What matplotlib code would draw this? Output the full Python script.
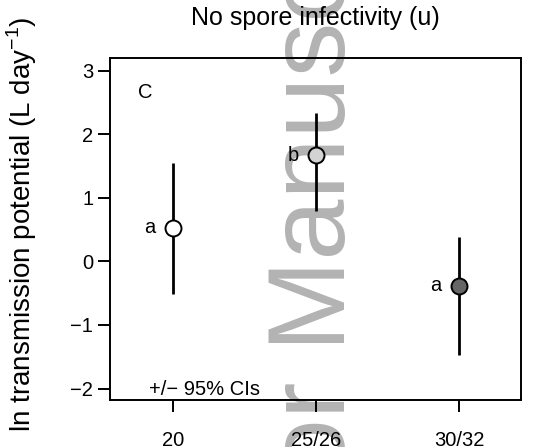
import matplotlib
matplotlib.use('Agg')
import matplotlib.pyplot as plt

plt.rcParams['font.family'] = ['Liberation Sans', 'DejaVu Sans']

# ---- data ----
temps   = ['20', '25/26', '30/32']
est     = [0.53, 1.67, -0.38]
ci_lo   = [-0.51, 0.79, -1.47]
ci_hi   = [1.55, 2.34, 0.39]
letters = ['a', 'b', 'a']
fills   = ['white', '#d3d3d3', '#666666']

xpos = list(range(1, len(temps) + 1))

fig = plt.figure(figsize=(5.47, 4.47), dpi=100)
fig.patch.set_facecolor('white')

# grey manuscript stamp behind everything
fig.text(345 / 547, 1 - 705 / 447, 'Author Manuscript', rotation=90,
         rotation_mode='anchor', ha='left', va='baseline',
         fontsize=79, color='#b3b3b3', zorder=0)

ax = fig.add_axes([110 / 547, 1 - 400 / 447, 411 / 547, 342 / 447])
ax.set_facecolor('none')
ax.set_zorder(2)

# CI whiskers, then the point estimates with their group letters
for x, lo, hi in zip(xpos, ci_lo, ci_hi):
    ax.plot([x, x], [lo, hi], color='black', lw=2.0, solid_capstyle='butt', zorder=3)
for x, y, fc, lab in zip(xpos, est, fills, letters):
    ax.plot(x, y, 'o', ms=11.5, mfc=fc, mec='black', mew=1.4, zorder=4)
    ax.annotate(lab, (x, y), xytext=(-17, 0), textcoords='offset points',
                ha='center', va='center', fontsize=14.5)

ax.set_xlim(0.557, 3.43)
ax.set_ylim(-2.18, 3.2)
ax.set_xticks(xpos)
ax.set_xticklabels(temps)
ax.set_yticks([-2, -1, 0, 1, 2, 3])
ax.tick_params(axis='both', direction='out', length=8.6, width=1.4,
               labelsize=14.5, color='black')
ax.tick_params(axis='x', pad=14)
ax.tick_params(axis='y', pad=3.5)
for sp in ax.spines.values():
    sp.set_linewidth(1.4)

ax.text(0.085, 0.9, 'C', transform=ax.transAxes,
        ha='center', va='center', fontsize=14.5)
ax.text(0.095, 0.03, '+/\u2212 95% CIs', transform=ax.transAxes,
        ha='left', va='center', fontsize=14.5)

fig.text(315.5 / 547, 1 - 18 / 447, 'No spore infectivity (u)',
         ha='center', va='center', fontsize=18)
fig.text(22 / 547, 1 - 224 / 447,
         r'ln transmission potential (L day$^{\mathregular{-1}}$)',
         rotation=90, ha='center', va='center', fontsize=20)

fig.savefig('out.png', dpi=100)
